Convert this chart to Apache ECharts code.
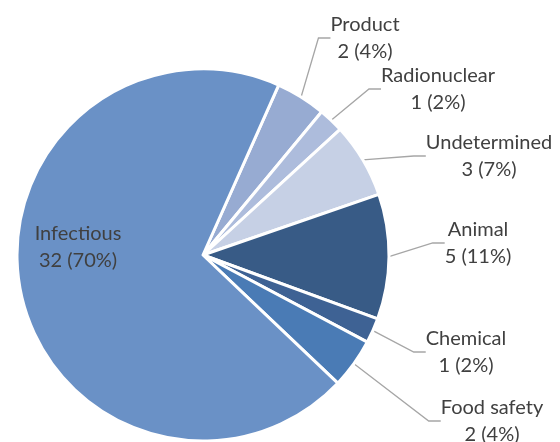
<!DOCTYPE html>
<html>
<head>
<meta charset="utf-8">
<script src="https://cdn.jsdelivr.net/npm/echarts@6/dist/echarts.min.js"></script>
<style>
  html, body { margin: 0; padding: 0; background: #fff; }
  #chart { width: 560px; height: 442px; }
</style>
</head>
<body>
<div id="chart"></div>
<script>
// Incident counts by category
const categories = ['Product', 'Radionuclear', 'Undetermined', 'Animal', 'Chemical', 'Food safety', 'Infectious'];
const counts = [2, 1, 3, 5, 1, 2, 32];
const sliceColors = ['#97abd2', '#adbcdc', '#c6d0e5', '#385b86', '#3e6294', '#4a7bb5', '#6a91c6'];

// Label anchor points (block centres) for each category
const labelSpots = [
  [365, 38], [438, 89], [489, 156], [478, 243], [466, 352], [492, 421], [78, 247]
];

const chart = echarts.init(document.getElementById('chart'), null, { renderer: 'canvas' });

chart.setOption({
  animation: false,
  series: [{
    type: 'pie',
    center: [203, 255],
    radius: 186,
    startAngle: 66,
    clockwise: true,
    avoidLabelOverlap: false,
    percentPrecision: 0,
    itemStyle: { borderColor: '#ffffff', borderWidth: 3 },
    label: {
      show: true,
      position: 'outside',
      formatter: '{b}\n{c} ({d}%)',
      color: '#404040',
      fontFamily: 'Lato, "Liberation Sans", sans-serif',
      fontSize: 20,
      lineHeight: 27,
      align: 'center'
    },
    labelLine: {
      show: true,
      length: 15,
      length2: 12,
      smooth: false,
      lineStyle: { color: '#a6a6a6', width: 1.3 }
    },
    labelLayout: function (p) {
      const s = labelSpots[p.dataIndex];
      return { x: s[0], y: s[1], align: 'center', verticalAlign: 'middle' };
    },
    data: categories.map((name, i) => ({
      name: name,
      value: counts[i],
      itemStyle: { color: sliceColors[i] },
      labelLine: name === 'Infectious' ? { show: false } : undefined
    }))
  }]
});
</script>
</body>
</html>
